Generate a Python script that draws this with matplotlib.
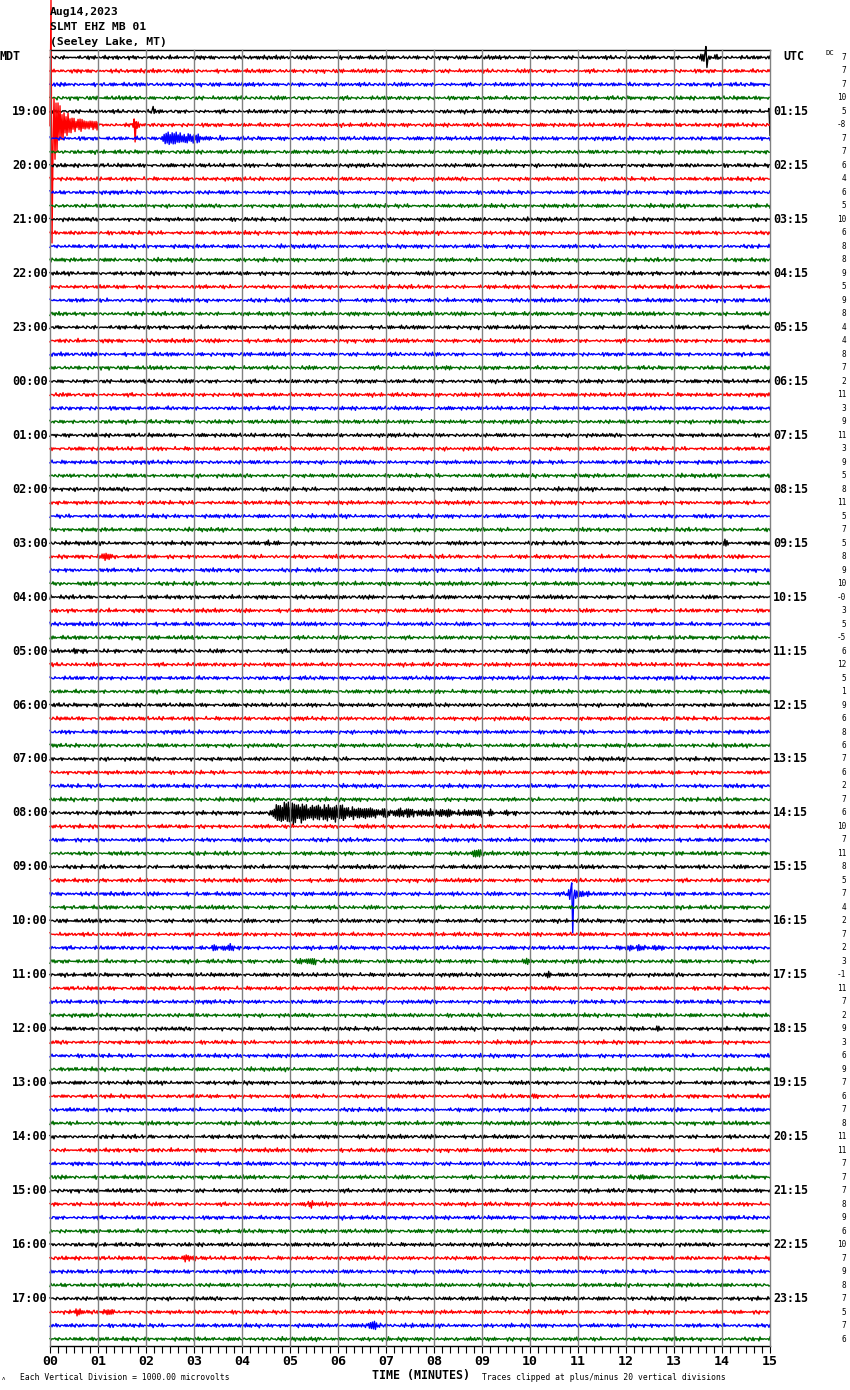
import numpy as np
import matplotlib
matplotlib.use("Agg")
import matplotlib.pyplot as plt
from matplotlib.transforms import blended_transform_factory

HEADER = ["Aug14,2023", "SLMT EHZ MB 01", "(Seeley Lake, MT)"]

MDT_LABELS = ["19:00", "20:00", "21:00", "22:00", "23:00", "00:00", "01:00", "02:00",
              "03:00", "04:00", "05:00", "06:00", "07:00", "08:00", "09:00", "10:00",
              "11:00", "12:00", "13:00", "14:00", "15:00", "16:00", "17:00"]
UTC_LABELS = ["01:15", "02:15", "03:15", "04:15", "05:15", "06:15", "07:15", "08:15",
              "09:15", "10:15", "11:15", "12:15", "13:15", "14:15", "15:15", "16:15",
              "17:15", "18:15", "19:15", "20:15", "21:15", "22:15", "23:15"]

DC_OFFSETS = [7, 7, 7, 10, 5, -8, 7, 7, 6, 4, 6, 5, 10, 6, 8, 8, 9, 5, 9, 8, 4, 4, 8, 7,
              2, 11, 3, 9, 11, 3, 9, 5, 8, 11, 5, 7, 5, 8, 9, 10, "-0", 3, 5, -5, 6, 12, 5, 1,
              9, 6, 8, 6, 7, 6, 2, 7, 6, 10, 7, 11, 8, 5, 7, 4, 2, 7, 2, 3, -1, 11, 7, 2,
              9, 3, 6, 9, 7, 6, 7, 8, 11, 11, 7, 7, 7, 8, 9, 6, 10, 7, 9, 8, 7, 5, 7, 6]

TRACE_COLORS = ["black", "red", "blue", "#006e00"]
MINUTE_LABELS = ["%02d" % m for m in range(16)]

# hand-typed wiggle shapes used as background noise texture
WIGGLE_A = [0.3, -0.5, 0.8, -0.2, 0.1, -0.9, 0.4, 0.6, -0.3, 0.0, -0.7, 0.5, 0.2, -0.4,
            0.9, -0.6, 0.1, 0.3, -0.8, 0.4, -0.1, 0.7, -0.5, 0.2, -0.3, 0.6, -0.9, 0.1,
            0.5, -0.2, 0.8, -0.4, 0.0, -0.6, 0.3, 0.7, -0.1, -0.5, 0.4, -0.8, 0.2, 0.6,
            -0.3, 0.1, -0.7, 0.9, -0.2, 0.3, -0.6, 0.5, -0.4, 0.2, -0.1]
WIGGLE_B = [-0.4, 0.6, -0.1, 0.3, -0.7, 0.2, 0.5, -0.3, 0.8, -0.6, 0.1, -0.2, 0.4, -0.9,
            0.3, 0.7, -0.5, 0.0, 0.6, -0.4, 0.2, -0.8, 0.5, -0.1, 0.3, -0.6, 0.9, -0.3,
            0.1, -0.5, 0.4, 0.2, -0.7, 0.6, -0.2, 0.0, 0.5, -0.4, 0.8, -0.6, 0.3, -0.1,
            -0.3, 0.7, -0.5, 0.2, -0.2]

NOISE_PX = 2.7

# (row, envelope knot minutes, envelope amplitude in px)
EVENTS = [
    (0, [13.5, 13.62, 13.72, 13.95], [0, 6, 4, 0]),
    (5, [0.0, 0.05, 0.3, 0.5, 0.9, 1.3], [0, 40, 15, 8, 4, 0]),
    (5, [1.6, 1.75, 1.95], [0, 4, 0]),
    (6, [2.3, 2.45, 2.8, 3.1, 3.9], [0, 8, 5, 3.5, 0]),
    (23, [7.8, 8.1, 8.4], [0, 2.5, 0]),
    (36, [4.3, 4.55, 4.8], [0, 2.5, 0]),
    (36, [13.9, 14.1, 14.3], [0, 2.5, 0]),
    (37, [0.9, 1.15, 1.5], [0, 3, 0]),
    (44, [0.1, 0.7, 1.4], [0, 2, 0]),
    (56, [4.55, 4.7, 4.9, 5.2, 6.0, 6.4, 7.0, 8.0, 9.0, 10.0],
         [0, 9, 14, 10, 8, 6, 4.5, 3.5, 2.5, 0]),
    (59, [8.75, 8.9, 9.05], [0, 4, 0]),
    (62, [10.7, 10.85, 11.0, 11.3], [0, 7, 4, 0]),
    (66, [3.1, 3.6, 4.1], [0, 3, 0]),
    (66, [11.8, 12.3, 13.1], [0, 3.5, 0]),
    (67, [4.8, 5.3, 6.0], [0, 3, 0]),
    (67, [9.8, 10.0, 10.2], [0, 2.5, 0]),
    (68, [10.3, 10.4, 10.55], [0, 3, 0]),
    (72, [12.4, 12.6, 12.8], [0, 3, 0]),
    (77, [9.9, 10.15, 10.4], [0, 3.5, 0]),
    (78, [8.5, 8.8, 9.1], [0, 2.5, 0]),
    (83, [12.1, 12.45, 12.8], [0, 3.5, 0]),
    (85, [5.0, 5.4, 5.9], [0, 3, 0]),
    (89, [2.7, 2.9, 3.1], [0, 4, 0]),
    (93, [0.4, 0.55, 0.7], [0, 4, 0]),
    (93, [1.0, 1.2, 1.4], [0, 3, 0]),
    (94, [6.5, 6.75, 7.0], [0, 5, 0]),
    (94, [7.4, 7.6, 7.8], [0, 3, 0]),
]

# (row, minute, up px, down px)
SPIKES = [
    (0, 13.67, 11, 10),
    (4, 2.15, 5, 2),
    (4, 14.98, 3, 24),
    (5, 0.03, 125, 118),
    (5, 1.75, 6, 17),
    (62, 10.87, 11, 39),
]

# ── Layout ────────────────────────────────
W, H = 850, 1390
PX_PER_ROW = 13.49
N_ROWS = len(DC_OFFSETS)
N_SAMP = 720

plt.rcParams.update({
    "font.family": "DejaVu Sans Mono",
    "font.weight": "bold",
})

fig = plt.figure(figsize=(W / 100, H / 100), dpi=100)
ax = fig.add_axes([50 / W, 1 - 1346 / H, 720 / W, 1296 / H])
ax.set_xlim(0, 15)
ax.set_ylim((1346 - 57.5) / PX_PER_ROW, (50 - 57.5) / PX_PER_ROW)

t = np.linspace(0, 15, N_SAMP)
idx = np.arange(N_SAMP)
wa = np.array(WIGGLE_A)
wb = np.array(WIGGLE_B)
alt = np.where(idx % 2 == 0, 1.0, -1.0)

for r in range(N_ROWS):
    v = NOISE_PX * (0.6 * wa[(idx + 17 * r) % len(wa)] + 0.4 * wb[(idx + 29 * r) % len(wb)])
    for er, kt, ka in EVENTS:
        if er == r:
            env = np.interp(t, kt, ka, left=0, right=0)
            v = v + env * alt * (0.5 + 0.5 * np.abs(wb[(idx + 11 * r) % len(wb)]))
    for sr, sm, up, dn in SPIKES:
        if sr == r:
            i = min(int(round(sm / 15 * (N_SAMP - 1))), N_SAMP - 2)
            v[i] = up
            v[i + 1] = -dn
    ax.plot(t, r - v / PX_PER_ROW, color=TRACE_COLORS[r % 4], lw=1.0,
            clip_on=False, zorder=2)

for m in range(16):
    ax.axvline(m, color="#808080", lw=1.0, zorder=3, clip_on=False)

for side in ["left", "right"]:
    ax.spines[side].set_visible(False)
ax.spines["top"].set_linewidth(1.0)
ax.spines["bottom"].set_linewidth(1.0)

ax.set_yticks([])
ax.set_xticks(range(16))
ax.set_xticklabels(MINUTE_LABELS, fontsize=9.5, fontweight="bold")
ax.set_xticks(np.arange(0, 15.001, 1 / 6), minor=True)
ax.tick_params(axis="x", which="both", direction="out", length=5, width=0.8, pad=1.5)

# ── Labels ────────────────────────────────
tr = blended_transform_factory(ax.transAxes, ax.transData)
for k, lab in enumerate(MDT_LABELS):
    ax.text(-0.003, 4 * (k + 1), lab, transform=tr, ha="right", va="center",
            fontsize=8.6, fontweight="bold")
for k, lab in enumerate(UTC_LABELS):
    ax.text(1.0045, 4 * (k + 1), lab, transform=tr, ha="left", va="center",
            fontsize=8.4, fontweight="bold")
for r, dc in enumerate(DC_OFFSETS):
    ax.text(1.1056, r, str(dc), transform=tr, ha="right", va="center",
            fontsize=5.6, fontweight="normal")

def ftext(x, y, s, **kw):
    fig.text(x / W, 1 - y / H, s, **kw)

for k, line in enumerate(HEADER):
    ftext(50, 12 + 15 * k, line, fontsize=8.2, va="center", ha="left")
ftext(0, 57, "MDT", fontsize=8.4, va="center", ha="left")
ftext(783, 56, "UTC", fontsize=8.4, va="center", ha="left")
ftext(825, 53, "DC", fontsize=5.2, va="center", ha="left", fontweight="normal")

ftext(421, 1376, "TIME (MINUTES)", fontsize=8.4, va="center", ha="center")
ftext(20, 1377, "Each Vertical Division = 1000.00 microvolts", fontsize=5.8,
      va="center", ha="left", fontweight="normal")
ftext(482, 1377, "Traces clipped at plus/minus 20 vertical divisions", fontsize=5.8,
      va="center", ha="left", fontweight="normal")
ftext(2, 1379, "\u028c", fontsize=4, va="center", ha="left", fontweight="normal")

fig.savefig("out.png", dpi=100)
